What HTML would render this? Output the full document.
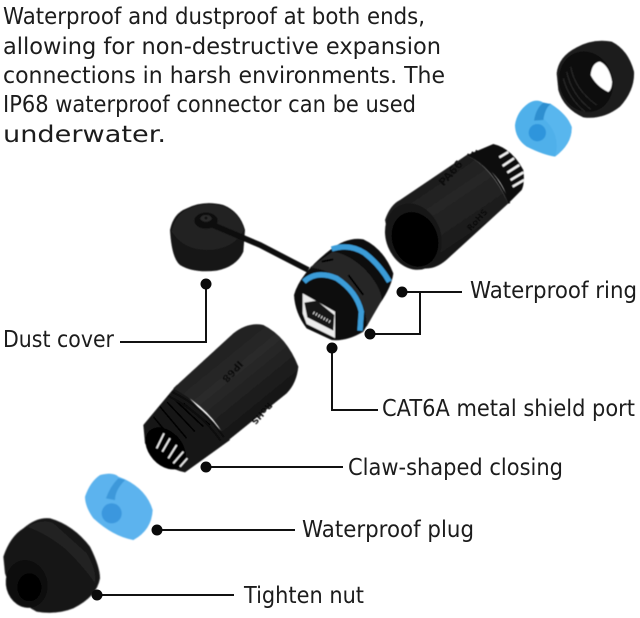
<!DOCTYPE html>
<html><head><meta charset="utf-8"><style>
html,body{margin:0;padding:0;background:#fff}
svg{display:block}
text{font-family:"DejaVu Sans","Liberation Sans",sans-serif;fill:#1c1c1c;font-size:23px}
</style></head><body>
<svg width="640" height="618" viewBox="0 0 640 618" xmlns="http://www.w3.org/2000/svg">
<defs>
 <linearGradient id="c1" x1="0.2" y1="0.1" x2="0.75" y2="0.85">
  <stop offset="0" stop-color="#141414"/><stop offset=".45" stop-color="#262626"/><stop offset=".75" stop-color="#1e1e1e"/><stop offset="1" stop-color="#0e0e0e"/>
 </linearGradient>
 <linearGradient id="c2" x1="0.15" y1="0.05" x2="0.8" y2="0.8">
  <stop offset="0" stop-color="#161616"/><stop offset=".5" stop-color="#2a2a2a"/><stop offset="1" stop-color="#101010"/>
 </linearGradient>
 <filter id="s" x="-5%" y="-5%" width="110%" height="110%"><feGaussianBlur stdDeviation="1.2"/></filter>
</defs>
<rect width="640" height="618" fill="#fff"/>
<text x="3" y="24" textLength="422" lengthAdjust="spacingAndGlyphs">Waterproof and dustproof at both ends,</text>
<text x="3" y="54" textLength="438" lengthAdjust="spacingAndGlyphs">allowing for non-destructive expansion</text>
<text x="3" y="83" textLength="442" lengthAdjust="spacingAndGlyphs">connections in harsh environments. The</text>
<text x="3" y="112" textLength="413" lengthAdjust="spacingAndGlyphs">IP68 waterproof connector can be used</text>
<text x="3" y="142" textLength="163" lengthAdjust="spacingAndGlyphs">underwater.</text>

<!-- top group -->
<g transform="translate(380 40) scale(.33333)" filter="url(#s)">
 <!-- nut -->
 <path d="M530 100 Q535 50 590 22 Q640 -5 695 5 Q745 30 762 95 Q765 150 720 200 Q670 240 610 232 Q550 205 535 150Z" fill="#1d1d1d"/>
 <ellipse cx="618" cy="125" rx="80" ry="92" transform="rotate(-18 618 125)" fill="#0a0a0a"/>
 <path d="M632 105 Q636 68 660 65 Q688 78 696 125 Q696 148 685 156 Q648 138 632 105Z" fill="#fff"/>
 <g stroke="#262626" stroke-width="4" fill="none">
  <path d="M572 80 Q585 150 650 195M560 95 Q575 165 632 208M550 115 Q565 175 615 215"/>
 </g>
 <!-- blue plug -->
 <path d="M405 255 Q410 215 445 190 Q470 175 490 188 Q540 195 575 260 Q578 310 525 350 Q490 345 440 320 Q405 295 405 255Z" fill="#4fb0ea"/>
 <path d="M510 190 Q565 225 575 262 Q575 310 525 350 Q545 285 490 235 Q495 205 510 190Z" fill="#58b6ee"/>
 <path d="M490 188 Q468 205 462 242 L490 240 Q495 205 512 192Z" fill="#2f8fd0"/>
 <ellipse cx="472" cy="278" rx="26" ry="26" fill="#2f95dc"/>
 <!-- rib section -->
 <path d="M340 312 Q395 325 430 390 Q435 430 425 450 L385 490 Q370 400 262 345Z" fill="#111"/>
 <g stroke="#f2f2f2" stroke-width="7">
  <path d="M358 352 L385 336M368 378 L402 355M382 398 L418 375M392 420 L430 397M398 440 L432 420"/>
 </g>
 <!-- body -->
 <path d="M15 540 Q30 495 60 480 L260 345 Q335 380 385 490 L210 650 Q170 690 130 685 Q50 650 25 590Z" fill="url(#c1)"/>
 <path d="M262 343 Q340 378 388 490M275 337 Q350 372 392 478M287 332 Q360 365 396 466" stroke="#090909" stroke-width="6" fill="none"/>
 <ellipse cx="100" cy="590" rx="82" ry="102" transform="rotate(-22 100 590)" fill="#161616"/>
 <ellipse cx="105" cy="598" rx="68" ry="84" transform="rotate(-22 105 598)" fill="#060606"/>
 <text x="0" y="0" transform="translate(190 440) rotate(-48)" style="font-size:32px;fill:#090909;font-weight:bold">PA66</text>
 <text x="0" y="0" transform="translate(272 575) rotate(-48)" style="font-size:26px;fill:#0b0b0b;font-weight:bold">RoHS</text>
</g>

<!-- center group -->
<g transform="translate(150 180) scale(.33333)" filter="url(#s)">
 <!-- cap -->
 <path d="M60 150 Q70 100 110 85 Q160 60 220 75 Q270 95 285 150 L280 215 Q260 260 200 272 Q130 280 90 255 Q65 235 60 150Z" fill="#151515"/>
 <path d="M65 155 Q75 105 112 88 Q160 65 218 78 Q268 98 282 150 Q250 210 170 210 Q100 210 65 155Z" fill="#212121"/>
 <!-- strap -->
 <path d="M165 125 L330 195 L475 270" stroke="#111" stroke-width="17" fill="none"/>
 <ellipse cx="168" cy="122" rx="35" ry="24" fill="#111"/>
 <ellipse cx="168" cy="115" rx="17" ry="10" fill="#2b2b2b"/>
 <circle cx="168" cy="114" r="4" fill="#0b0b0b"/>
 <!-- port body -->
 <path d="M540 210 Q590 170 640 178 Q700 205 730 280 Q725 320 690 370 L640 455 Q590 485 545 480 L470 445 Q435 400 432 345 Q450 280 540 210Z" fill="#0e0e0e"/>
 <path d="M480 262 L548 215 Q610 225 660 285 Q695 330 695 360 L650 440 Q650 370 600 320 Q540 268 480 262Z" fill="#252525"/>
 <path d="M545 207 Q600 190 645 220 Q690 255 718 305" stroke="#3a9cd8" stroke-width="16" fill="none"/>
 <path d="M462 305 Q500 270 560 295 Q620 335 634 395 L630 452" stroke="#3a9cd8" stroke-width="16" fill="none"/>
 <path d="M515 245 L550 238M595 285 L640 345" stroke="#050505" stroke-width="6"/>
 <!-- port -->
 <path d="M458 340 L555 395 L555 474 L470 432 L458 400Z" fill="#ececec"/>
 <path d="M463 368 L500 362 L553 405 L550 452 L472 412Z" fill="#141414"/>
 <path d="M490 398 L545 428" stroke="#ddd" stroke-width="9" stroke-dasharray="3 6"/>
</g>

<!-- bottom group -->
<g transform="translate(0 310) scale(.33333)" filter="url(#s)">
 <!-- rib section -->
 <path d="M530 225 L690 390 L555 487 Q490 475 435 400 L430 345Z" fill="#151515"/>
 <g stroke="#050505" stroke-width="5">
  <path d="M480 290 L560 385M500 275 L585 365M525 270 L610 350M550 280 L630 345M460 320 L535 410"/>
 </g>
 <ellipse cx="497" cy="415" rx="50" ry="72" transform="rotate(-42 497 415)" fill="#060606"/>
 <g stroke="#eee" stroke-width="5">
  <path d="M470 415 L492 370M487 425 L510 385M505 445 L530 405M520 460 L550 425M540 470 L562 445"/>
 </g>
 <!-- body -->
 <path d="M520 235 L700 70 Q745 35 790 45 Q860 80 895 170 Q890 220 860 250 L680 395 Q640 300 520 235Z" fill="url(#c2)"/>
 <path d="M515 245 Q610 290 672 382M505 258 Q600 305 662 392" stroke="#0a0a0a" stroke-width="6" fill="none"/>
 <text x="0" y="0" transform="translate(715 150) rotate(132)" style="font-size:30px;fill:#090909;font-weight:bold">IP68</text>
 <text x="0" y="0" transform="translate(805 275) rotate(132)" style="font-size:26px;fill:#0b0b0b;font-weight:bold">RoHS</text>
 <!-- blue plug -->
 <path d="M255 560 Q270 515 300 495 Q340 485 355 500 L375 508 Q440 540 458 600 Q455 660 400 690 Q340 680 280 625 Q255 590 255 560Z" fill="#5bb3ee"/>
 <path d="M355 505 Q330 530 318 565 L345 570 Q345 540 375 510Z" fill="#3d98da"/>
 <ellipse cx="335" cy="610" rx="30" ry="30" fill="#3a97de"/>
 <!-- nut -->
 <path d="M10 740 Q30 680 70 655 Q110 620 150 625 Q220 645 270 710 Q300 770 300 805 Q290 860 220 895 Q170 915 110 905 Q40 870 15 790Z" fill="#171717"/>
 <path d="M80 650 Q130 625 160 640 L260 730 Q290 780 285 820 Q260 780 200 720 Q140 670 80 650Z" fill="#242424"/>
 <ellipse cx="80" cy="822" rx="62" ry="72" transform="rotate(-15 80 822)" fill="#0a0a0a"/>
 <ellipse cx="88" cy="832" rx="36" ry="42" fill="#050505"/>
</g>

<!-- callouts -->
<g stroke="#111" stroke-width="2" fill="none">
 <path d="M120 342 H206 V284"/>
 <path d="M402 292 H462 M420 292 V334 H370"/>
 <path d="M332 348 V410 H378"/>
 <path d="M206 467 H343"/>
 <path d="M157 530 H295"/>
 <path d="M97 595 H234"/>
</g>
<g fill="#0a0a0a">
 <circle cx="206" cy="284" r="5.5"/>
 <circle cx="402" cy="292" r="5.5"/>
 <circle cx="370" cy="334" r="5.5"/>
 <circle cx="332" cy="348" r="5.5"/>
 <circle cx="206" cy="467" r="5.5"/>
 <circle cx="157" cy="530" r="5.5"/>
 <circle cx="97" cy="595" r="5.5"/>
</g>
<text x="470" y="298" textLength="167" lengthAdjust="spacingAndGlyphs">Waterproof ring</text>
<text x="3" y="347" textLength="111" lengthAdjust="spacingAndGlyphs">Dust cover</text>
<text x="382" y="416" textLength="253" lengthAdjust="spacingAndGlyphs">CAT6A metal shield port</text>
<text x="348" y="475" textLength="215" lengthAdjust="spacingAndGlyphs">Claw-shaped closing</text>
<text x="302" y="537" textLength="172" lengthAdjust="spacingAndGlyphs">Waterproof plug</text>
<text x="244" y="603" textLength="120" lengthAdjust="spacingAndGlyphs">Tighten nut</text>
</svg>
</body></html>
